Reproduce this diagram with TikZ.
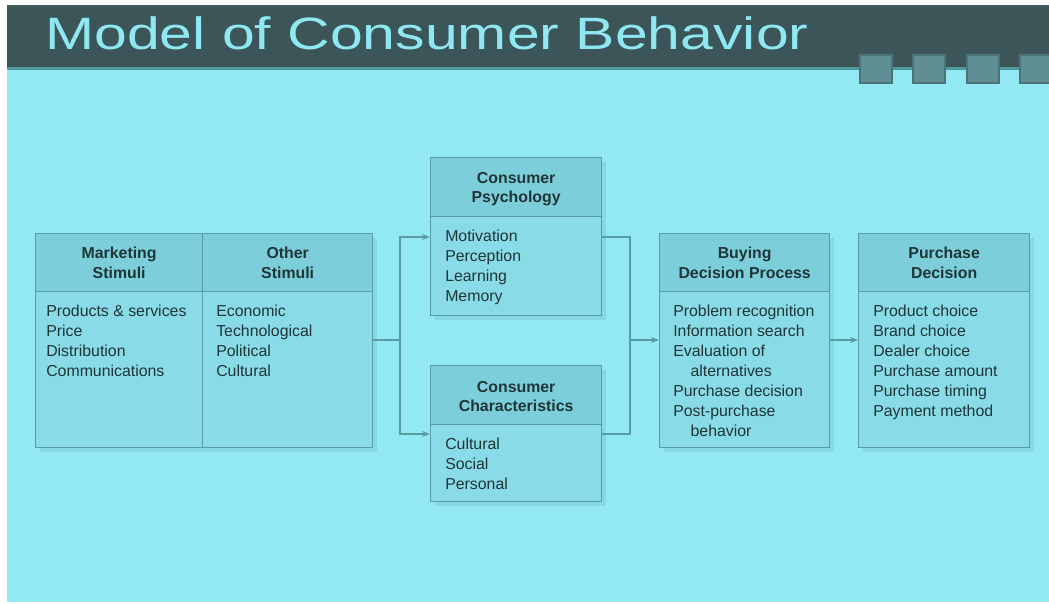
\documentclass[tikz,border=0pt]{standalone}
\usepackage{fontspec}
\setmainfont{Liberation Sans}
\usetikzlibrary{arrows.meta,positioning}
\definecolor{bgc}{HTML}{93E9F3}
\definecolor{band}{HTML}{3B5558}
\definecolor{bandline}{HTML}{4F9AA2}
\definecolor{titlec}{HTML}{8FE8F1}
\definecolor{hdr}{HTML}{7CCFDA}
\definecolor{bdy}{HTML}{89DCE7}
\definecolor{edge}{HTML}{5A9CA4}
\definecolor{txt}{HTML}{1F3538}
\definecolor{sq}{HTML}{5F8E94}
\definecolor{sqe}{HTML}{4A7377}
\definecolor{shad}{HTML}{86D8E3}
\tikzset{
  hdrbox/.style={draw=edge, line width=1pt, fill=hdr, anchor=north west, inner sep=0pt},
  bdybox/.style={draw=edge, line width=1pt, fill=bdy, anchor=north west, inner sep=0pt},
  hdrtext/.style={text=txt, font=\fontsize{11.9}{14.5}\selectfont\bfseries, align=center},
  bdytext/.style={text=txt, font=\fontsize{11.9}{15}\selectfont, align=left, anchor=north west, inner sep=0pt},
  conn/.style={draw=edge, line width=1.1pt},
  arr/.style={conn, -{Stealth[length=6pt,width=4.5pt]}},
  sqbox/.style={fill=sq, draw=sqe, line width=0.8pt}
}
\begin{document}
\begin{tikzpicture}[x=0.75pt,y=-0.75pt]
\useasboundingbox (0,0) rectangle (1049,603);
\fill[white] (0,0) rectangle (1049,603);
\fill[bgc] (7,5) rectangle (1049,602);
\fill[band] (7,5) rectangle (1049,67);
\fill[bandline] (7,67) rectangle (1049,70);
\node[anchor=base west, text=titlec, font=\fontsize{34}{40}\selectfont, inner sep=0pt, xscale=1.3] (title) at (45,49) {Model of Consumer Behavior};
\foreach \x in {860,913,967,1020} {
  \draw[sqbox] (\x,55) rectangle (\x+32,83);
}
% shadows
\foreach \a/\b/\c/\d in {35/233/372/447, 430/157/601/315, 430/365/601/501, 659/233/829/447, 858/233/1029/447} {
  \fill[shad] (\a+5,\b+5) rectangle (\c+5,\d+5);
}
% stimuli
\node[hdrbox, minimum width=167*0.75pt, minimum height=58*0.75pt] (msh) at (35,233) {};
\node[hdrbox, minimum width=170*0.75pt, minimum height=58*0.75pt] (osh) at (202,233) {};
\node[bdybox, minimum width=167*0.75pt, minimum height=156*0.75pt] (msb) at (35,291) {};
\node[bdybox, minimum width=170*0.75pt, minimum height=156*0.75pt] (osb) at (202,291) {};
\node[hdrtext] at (msh) {Marketing\\Stimuli};
\node[hdrtext] at (osh) {Other\\Stimuli};
\node[bdytext] at ([shift={(11,14)}]msb.north west) {Products \& services\\Price\\Distribution\\Communications};
\node[bdytext] at ([shift={(14,14)}]osb.north west) {Economic\\Technological\\Political\\Cultural};
% consumer psychology
\node[hdrbox, minimum width=171*0.75pt, minimum height=59*0.75pt] (cph) at (430,157) {};
\node[bdybox, minimum width=171*0.75pt, minimum height=99*0.75pt] (cpb) at (430,216) {};
\node[hdrtext] at ([yshift=-1.5pt]cph.center) {Consumer\\Psychology};
\node[bdytext] at ([shift={(15,14)}]cpb.north west) {Motivation\\Perception\\Learning\\Memory};
% consumer characteristics
\node[hdrbox, minimum width=171*0.75pt, minimum height=59*0.75pt] (cch) at (430,365) {};
\node[bdybox, minimum width=171*0.75pt, minimum height=77*0.75pt] (ccb) at (430,424) {};
\node[hdrtext] at ([yshift=-1pt]cch.center) {Consumer\\Characteristics};
\node[bdytext] at ([shift={(15,14)}]ccb.north west) {Cultural\\Social\\Personal};
% buying decision process
\node[hdrbox, minimum width=170*0.75pt, minimum height=58*0.75pt] (bdh) at (659,233) {};
\node[bdybox, minimum width=170*0.75pt, minimum height=156*0.75pt] (bdb) at (659,291) {};
\node[hdrtext] at (bdh) {Buying\\Decision Process};
\node[bdytext] at ([shift={(14,14)}]bdb.north west) {Problem recognition\\Information search\\Evaluation of\\\hspace*{13pt}alternatives\\Purchase decision\\Post-purchase\\\hspace*{13pt}behavior};
% purchase decision
\node[hdrbox, minimum width=171*0.75pt, minimum height=58*0.75pt] (pdh) at (858,233) {};
\node[bdybox, minimum width=171*0.75pt, minimum height=156*0.75pt] (pdb) at (858,291) {};
\node[hdrtext] at (pdh) {Purchase\\Decision};
\node[bdytext] at ([shift={(15,14)}]pdb.north west) {Product choice\\Brand choice\\Dealer choice\\Purchase amount\\Purchase timing\\Payment method};
% connectors
\coordinate (sl) at (400,340);
\coordinate (sr) at (630,340);
\draw[conn] (osb.east |- sl) -- (sl);
\draw[arr] (sl) |- (cpb.west |- 0,237);
\draw[arr] (sl) |- (ccb.west |- 0,434);
\draw[conn] (cpb.east |- 0,237) -| (sr);
\draw[conn] (ccb.east |- 0,434) -| (sr);
\draw[arr] (sr) -- (bdb.west |- sr);
\draw[arr] (bdb.east |- sr) -- (pdb.west |- sr);
\end{tikzpicture}
\end{document}
